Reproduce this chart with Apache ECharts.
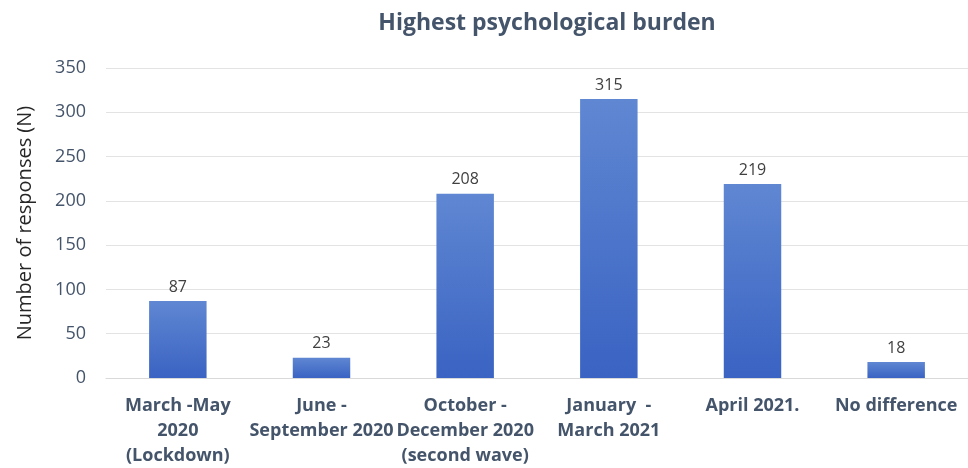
<!DOCTYPE html>
<html>
<head>
<meta charset="utf-8">
<script src="https://cdn.jsdelivr.net/npm/echarts@6/dist/echarts.min.js"></script>
<style>html,body{margin:0;padding:0;background:#fff}#c{width:968px;height:468px}</style>
</head>
<body>
<div id="c"></div>
<script>
var categories = ["March -May\n2020\n(Lockdown)", "June -\nSeptember 2020", "October -\nDecember 2020\n(second wave)", "January  -\nMarch 2021", "April 2021.", "No difference"];
var values = [87, 23, 208, 315, 219, 18];
var yTicks = { min: 0, max: 350, interval: 50 };

var chart = echarts.init(document.getElementById('c'), null, { renderer: 'canvas' });
chart.setOption({
  animation: false,
  title: {
    text: 'Highest psychological burden',
    left: 542, top: 7, textAlign: 'center',
    textStyle: { fontFamily: 'Open Sans', fontWeight: 'bold', fontSize: 23, color: '#44546A' }
  },
  grid: { left: 106, right: 0, top: 68, bottom: 90 },
  xAxis: {
    type: 'category',
    data: categories,
    axisTick: { show: false },
    axisLine: { lineStyle: { color: '#D9D9D9' } },
    axisLabel: {
      interval: 0, margin: 15, lineHeight: 25,
      fontFamily: 'Open Sans', fontWeight: 'bold', fontSize: 18, color: '#44546A'
    }
  },
  yAxis: {
    type: 'value',
    min: yTicks.min, max: yTicks.max, interval: yTicks.interval,
    name: 'Number of responses (N)',
    nameLocation: 'middle', nameGap: 71, nameRotate: 90,
    nameTextStyle: { fontFamily: 'Open Sans', fontSize: 20, color: '#262626' },
    axisLine: { show: false }, axisTick: { show: false },
    splitLine: { lineStyle: { color: '#E3E3E3' } },
    axisLabel: { margin: 20, fontFamily: 'Open Sans', fontSize: 18, color: '#44546A' }
  },
  series: [{
    type: 'bar',
    data: values,
    barWidth: '40%',
    itemStyle: {
      color: new echarts.graphic.LinearGradient(0, 0, 0, 1, [
        { offset: 0, color: '#5F87D2' },
        { offset: 1, color: '#3A63C3' }
      ])
    },
    label: {
      show: true, position: 'top', distance: 6,
      fontFamily: 'Open Sans', fontSize: 16, color: '#404040'
    }
  }]
});
</script>
</body>
</html>
